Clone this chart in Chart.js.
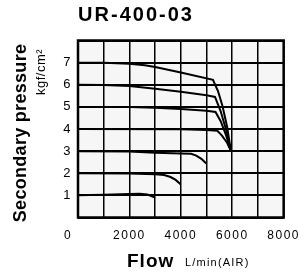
<!DOCTYPE html>
<html><head><meta charset="utf-8">
<script src="https://cdn.jsdelivr.net/npm/chart.js@4.4.1/dist/chart.umd.min.js"></script>
<style>html,body{margin:0;padding:0;background:#fff;}#wrap{width:308px;height:275px;position:relative;}</style>
</head><body><div id="wrap"><canvas id="c" width="308" height="275"></canvas></div>
<script>
// ---- text ----
const chartTitle = 'UR-400-03';
const xTitle = 'Flow';
const xUnit = 'L/min(AIR)';
const yTitle = 'Secondary pressure';
const yUnit = 'kgf/cm²';
// ---- tick labels ----
const xTickLabels = [0, 2000, 4000, 6000, 8000];
const yTickLabels = [1, 2, 3, 4, 5, 6, 7];
// ---- series (flow L/min, pressure kgf/cm2) ----
const flow7 = [0, 1000, 2000, 2600, 3000, 4000, 5250, 5450, 5620, 5800, 5950];
const pres7 = [7.0, 6.99, 6.95, 6.88, 6.8, 6.55, 6.22, 5.7, 5.04, 4.1, 3.0];
const flow6 = [0, 1000, 2000, 3000, 4000, 5000, 5330, 5550, 5750, 5950];
const pres6 = [6.0, 5.99, 5.94, 5.82, 5.68, 5.53, 5.45, 4.8, 4.0, 3.0];
const flow5 = [0, 2000, 3000, 4000, 5000, 5350, 5550, 5750, 5950];
const pres5 = [5.0, 4.99, 4.96, 4.9, 4.83, 4.77, 4.35, 3.75, 3.0];
const flow4 = [0, 4000, 5000, 5420, 5600, 5800, 5950];
const pres4 = [4.0, 3.99, 3.96, 3.92, 3.7, 3.38, 3.0];
const flow3 = [0, 2000, 3000, 4000, 4400, 4600, 4800, 4990];
const pres3 = [3.0, 2.98, 2.93, 2.89, 2.88, 2.8, 2.65, 2.44];
const flow2 = [0, 2000, 3000, 3350, 3600, 3800, 3990];
const pres2 = [2.0, 1.99, 1.95, 1.92, 1.83, 1.7, 1.5];
const flow1 = [0, 1000, 2000, 2400, 2700, 3000];
const pres1 = [1.0, 1.03, 1.06, 1.07, 1.04, 0.9];

const series = [
  [flow7, pres7], [flow6, pres6], [flow5, pres5], [flow4, pres4],
  [flow3, pres3], [flow2, pres2], [flow1, pres1]
];
const FONT = "'Liberation Sans', Arial, Helvetica, sans-serif";

const datasets = series.map(([xs, ys], i) => ({
  label: 'set ' + (7 - i),
  data: xs.map((x, k) => ({x: x, y: ys[k]})),
  borderColor: '#000',
  borderWidth: 2,
  pointRadius: 0,
  tension: 0,
  fill: false
}));

const decor = {
  id: 'decor',
  beforeDraw(chart) {
    const {ctx, chartArea: a} = chart;
    ctx.save();
    ctx.fillStyle = '#f6f6f6';
    ctx.fillRect(a.left, a.top, a.right - a.left, a.bottom - a.top);
    ctx.restore();
    ctx.letterSpacing = '1.5px';
  },
  afterDraw(chart) {
    const {ctx, chartArea: a} = chart;
    ctx.save();
    ctx.strokeStyle = '#000';
    ctx.lineWidth = 2.5;
    ctx.strokeRect(a.left, a.top, a.right - a.left, a.bottom - a.top);
    ctx.fillStyle = '#000';
    // title
    ctx.letterSpacing = '2px';
    ctx.font = 'bold 20px ' + FONT;
    ctx.textAlign = 'center';
    ctx.textBaseline = 'alphabetic';
    ctx.fillText(chartTitle, 136, 21);
    // "0" corner tick
    ctx.letterSpacing = '1.5px';
    ctx.font = '12px ' + FONT;
    ctx.fillText(String(xTickLabels[0]), 68, 238.5);
    // x title
    ctx.letterSpacing = '1px';
    ctx.font = 'bold 19px ' + FONT;
    ctx.textAlign = 'left';
    ctx.fillText(xTitle, 127, 266.5);
    ctx.letterSpacing = '1.2px';
    ctx.font = '11px ' + FONT;
    ctx.fillText(xUnit, 185, 266);
    // y title
    ctx.save();
    ctx.translate(25.5, 133);
    ctx.rotate(-Math.PI / 2);
    ctx.letterSpacing = '0.3px';
    ctx.font = 'bold 18px ' + FONT;
    ctx.textAlign = 'center';
    ctx.fillText(yTitle, 0, 0);
    ctx.restore();
    ctx.save();
    ctx.translate(45, 72);
    ctx.rotate(-Math.PI / 2);
    ctx.letterSpacing = '0.5px';
    ctx.font = '13px ' + FONT;
    ctx.textAlign = 'center';
    ctx.fillText(yUnit, 0, 0);
    ctx.restore();
    ctx.restore();
  }
};

new Chart(document.getElementById('c'), {
  type: 'line',
  data: {datasets},
  options: {
    responsive: false,
    devicePixelRatio: 1,
    animation: false,
    layout: {padding: {left: 0, right: 17, top: 40.5, bottom: 0}},
    plugins: {legend: {display: false}, title: {display: false}, tooltip: {enabled: false}},
    scales: {
      x: {
        type: 'linear', min: 0, max: 8000,
        afterFit: s => { s.height = 57.5; },
        border: {display: false},
        grid: {color: '#000', lineWidth: 1.5, drawTicks: false},
        ticks: {
          stepSize: 1000, padding: 11, color: '#000', maxRotation: 0, autoSkip: false,
          font: {family: FONT, size: 12},
          callback: v => (xTickLabels.includes(v) && v !== 0) ? String(v) : ''
        }
      },
      y: {
        type: 'linear', min: 0, max: 8,
        afterFit: s => { s.width = 78; },
        border: {display: false},
        grid: {color: '#000', lineWidth: 2, drawTicks: false},
        ticks: {
          stepSize: 1, padding: 6, color: '#000',
          font: {family: FONT, size: 13},
          callback: v => yTickLabels.includes(v) ? String(v) : ''
        }
      }
    }
  },
  plugins: [decor]
});
</script></body></html>
